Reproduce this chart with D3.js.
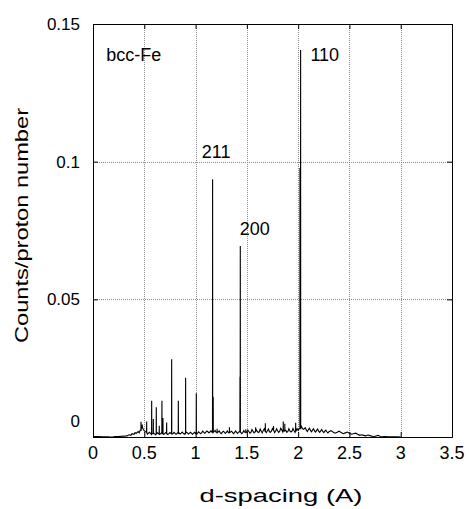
<!DOCTYPE html>
<html>
<head>
<meta charset="utf-8">
<script src="https://cdn.jsdelivr.net/npm/d3@7"></script>
<style>
  html, body { margin: 0; padding: 0; background: #fff; }
  svg { display: block; font-family: "Liberation Sans", Arial, sans-serif; }
</style>
</head>
<body>
<svg id="chart" width="469" height="509"></svg>
<script>
// ---- data ----
const xTicks = [0, 0.5, 1, 1.5, 2, 2.5, 3, 3.5];
const xTickLabels = ["0", "0.5", "1", "1.5", "2", "2.5", "3", "3.5"];
const yTicks = [0, 0.05, 0.1, 0.15];
const yTickLabels = ["0", "0.05", "0.1", "0.15"];

// background (d-spacing, counts/proton)
const bgD = [0.00,0.05,0.10,0.15,0.16,0.20,0.21,0.25,0.30,0.33,0.35,0.37,0.38,0.40,0.41,0.42,0.44,0.45,0.46,0.47,0.48,0.49,0.50,0.52,0.54,0.56,0.58,0.60,0.62,0.64,0.66,0.68,0.70,0.72,0.74,0.76,0.78,0.80,0.82,0.84,0.86,0.88,0.90,0.92,0.94,0.96,0.98,1.00,1.02,1.04,1.06,1.08,1.10,1.12,1.14,1.16,1.18,1.20,1.22,1.24,1.26,1.28,1.30,1.32,1.34,1.36,1.38,1.40,1.42,1.44,1.46,1.48,1.50,1.52,1.54,1.56,1.58,1.60,1.62,1.64,1.66,1.68,1.70,1.72,1.74,1.76,1.78,1.80,1.82,1.84,1.86,1.88,1.90,1.92,1.94,1.96,1.98,2.00,2.01,2.03,2.04,2.05,2.06,2.08,2.10,2.12,2.14,2.16,2.18,2.20,2.22,2.24,2.26,2.28,2.30,2.34,2.38,2.42,2.46,2.50,2.54,2.58,2.62,2.64,2.66,2.70,2.72,2.76,2.80,2.84,2.88,2.92,2.96,3.00];
const bgY = [0.0002,0.0002,0.0001,0.0001,0.0000,0.0000,0.0002,0.0002,0.0003,0.0004,0.0008,0.0006,0.0012,0.0010,0.0016,0.0013,0.0020,0.0015,0.0024,0.0030,0.0036,0.0028,0.0022,0.0017,0.0014,0.0013,0.0012,0.0011,0.0012,0.0011,0.0012,0.0012,0.0013,0.0012,0.0012,0.0013,0.0012,0.0013,0.0013,0.0015,0.0014,0.0013,0.0014,0.0015,0.0013,0.0014,0.0013,0.0013,0.0014,0.0015,0.0016,0.0017,0.0018,0.0019,0.0018,0.0017,0.0020,0.0017,0.0018,0.0016,0.0017,0.0018,0.0017,0.0016,0.0018,0.0017,0.0016,0.0017,0.0018,0.0017,0.0016,0.0017,0.0018,0.0020,0.0017,0.0021,0.0019,0.0022,0.0018,0.0021,0.0024,0.0020,0.0023,0.0019,0.0022,0.0025,0.0021,0.0023,0.0020,0.0026,0.0022,0.0024,0.0020,0.0022,0.0021,0.0023,0.0022,0.0024,0.0030,0.0040,0.0032,0.0028,0.0030,0.0025,0.0027,0.0024,0.0025,0.0022,0.0024,0.0021,0.0022,0.0020,0.0021,0.0019,0.0019,0.0018,0.0017,0.0016,0.0015,0.0014,0.0012,0.0010,0.0008,0.0006,0.0004,0.0005,0.0003,0.0004,0.0002,0.0002,0.0001,0.0001,0.0001,0.0000];

// counting noise on the background (d-spacing, counts/proton)
const noiseD = [0.53,0.55,0.57,0.59,0.61,0.63,0.65,0.67,0.69,0.71,0.73,0.75,0.77,0.79,0.81,0.83,0.85,0.87,0.89,0.91,0.93,0.95,0.97,0.99,1.01,1.03,1.05,1.07,1.09,1.11,1.13,1.15,1.17,1.19,1.21,1.23,1.25,1.27,1.29,1.31,1.33,1.35,1.37,1.39,1.41,1.43,1.45,1.47,1.49,1.51,1.53,1.55,1.57,1.59,1.61,1.63,1.65,1.67,1.69,1.71,1.73,1.75,1.77,1.79,1.81,1.83,1.85,1.87,1.89,1.91,1.93,1.95,1.97,1.99,2.07,2.09,2.11,2.13,2.15,2.17,2.19,2.21,2.23,2.25,2.27,2.29,2.32,2.36,2.40,2.44,2.48,2.52,2.56,2.60,2.68,2.74,2.78,2.82];
const noiseY = [0.0010,0.0017,0.0009,0.0015,0.0008,0.0015,0.0009,0.0016,0.0009,0.0016,0.0009,0.0016,0.0010,0.0017,0.0010,0.0017,0.0011,0.0018,0.0010,0.0018,0.0011,0.0017,0.0010,0.0017,0.0010,0.0019,0.0012,0.0021,0.0014,0.0022,0.0015,0.0023,0.0014,0.0024,0.0013,0.0022,0.0012,0.0021,0.0013,0.0022,0.0014,0.0021,0.0012,0.0022,0.0013,0.0021,0.0012,0.0023,0.0014,0.0025,0.0014,0.0027,0.0015,0.0028,0.0016,0.0029,0.0015,0.0030,0.0016,0.0029,0.0017,0.0031,0.0016,0.0030,0.0017,0.0032,0.0018,0.0033,0.0017,0.0030,0.0018,0.0031,0.0017,0.0030,0.0034,0.0020,0.0032,0.0019,0.0030,0.0018,0.0029,0.0017,0.0027,0.0016,0.0025,0.0015,0.0023,0.0014,0.0021,0.0012,0.0018,0.0010,0.0014,0.0006,0.0007,0.0001,0.0006,0.0001];

// diffraction peaks (d-spacing, peak height)
const peakD = [0.468,0.480,0.523,0.572,0.588,0.617,0.646,0.672,0.682,0.718,0.767,0.832,0.903,1.007,1.166,1.172,1.21,1.33,1.433,1.436,1.49,1.586,1.68,1.76,1.855,1.87,1.976,2.018,2.024];
const peakH = [0.0055,0.0045,0.0056,0.0132,0.0065,0.0108,0.0041,0.0132,0.0069,0.0053,0.0282,0.0132,0.0215,0.0159,0.0936,0.0146,0.0030,0.0035,0.0219,0.0694,0.0028,0.0035,0.0050,0.0040,0.0056,0.0048,0.0052,0.0977,0.1406];

// annotations
const annoText = ["bcc-Fe", "110", "211", "200"];
const annoD = [0.13, 2.12, 1.06, 1.43];
const annoV = [0.1365, 0.1365, 0.1015, 0.0735];

// ---- layout ----
const svg = d3.select("#chart");
const L = 93, R = 452, T = 24, B = 437;
const x = d3.scaleLinear().domain([0, 3.5]).range([L, R]);
const y = d3.scaleLinear().domain([0, 0.15]).range([B, T]);

// grid
const grid = svg.append("g").attr("stroke", "#8c8c8c").attr("stroke-width", 1).attr("stroke-dasharray", "1,1");
grid.selectAll("line.gx").data(xTicks.slice(1, -1)).enter().append("line")
  .attr("x1", d => Math.round(x(d)) + 0.5).attr("x2", d => Math.round(x(d)) + 0.5)
  .attr("y1", T).attr("y2", B);
grid.selectAll("line.gy").data(yTicks.slice(1, -1)).enter().append("line")
  .attr("y1", d => Math.round(y(d)) + 0.5).attr("y2", d => Math.round(y(d)) + 0.5)
  .attr("x1", L).attr("x2", R);

// build spectrum line
const bgPts = bgD.map((d, i) => [d, bgY[i]]);
function baseAt(d) {
  const i = Math.max(0, d3.bisector(p => p[0]).right(bgPts, d) - 1);
  return bgPts[i][1];
}
let pts = bgPts.concat(noiseD.map((d, i) => [d, noiseY[i]]));
peakD.forEach((d, i) => {
  const b = baseAt(d);
  pts.push([d - 0.001, b], [d, peakH[i]], [d + 0.001, b]);
});
pts.sort((a, b) => a[0] - b[0]);

svg.append("path")
  .datum(pts)
  .attr("fill", "none")
  .attr("stroke", "#000")
  .attr("stroke-width", 1.1)
  .attr("stroke-linejoin", "miter")
  .attr("d", d3.line().x(p => x(p[0])).y(p => y(p[1])));

// axes (inward ticks, box)
const xAxisB = d3.axisBottom(x).tickValues(xTicks).tickSize(-5).tickFormat("");
const xAxisT = d3.axisTop(x).tickValues(xTicks).tickSize(-5).tickFormat("");
const yAxisL = d3.axisLeft(y).tickValues(yTicks).tickSize(-5).tickFormat("");
const yAxisR = d3.axisRight(y).tickValues(yTicks).tickSize(-5).tickFormat("");
[[xAxisB, `translate(0,${B})`], [xAxisT, `translate(0,${T})`], [yAxisL, `translate(${L},0)`], [yAxisR, `translate(${R},0)`]]
  .forEach(([ax, tr]) => {
    const g = svg.append("g").attr("transform", tr).call(ax);
    g.selectAll("path,line").attr("stroke", "#000").attr("stroke-width", 1);
  });

// tick labels
svg.append("g").selectAll("text").data(xTicks).enter().append("text")
  .attr("x", d => x(d)).attr("y", 459)
  .attr("text-anchor", "middle").attr("font-size", 18).attr("fill", "#000")
  .text((d, i) => xTickLabels[i]);
svg.append("g").selectAll("text").data(yTicks).enter().append("text")
  .attr("x", 80).attr("y", (d, i) => y(d) + (i === 0 ? -16 : 0))
  .attr("dy", "0.35em")
  .attr("text-anchor", "end").attr("font-size", 17).attr("fill", "#000")
  .text((d, i) => yTickLabels[i]);

// axis titles
svg.append("text")
  .attr("x", 281).attr("y", 502).attr("text-anchor", "middle")
  .attr("font-size", 19).attr("textLength", 163).attr("lengthAdjust", "spacingAndGlyphs")
  .text("d-spacing (A)");
svg.append("text")
  .attr("transform", "translate(28,225.5) rotate(-90)")
  .attr("text-anchor", "middle")
  .attr("font-size", 18).attr("textLength", 235).attr("lengthAdjust", "spacingAndGlyphs")
  .text("Counts/proton number");

// annotations
svg.append("g").selectAll("text").data(annoText).enter().append("text")
  .attr("x", (d, i) => x(annoD[i])).attr("y", (d, i) => y(annoV[i]))
  .attr("font-size", 18).attr("fill", "#000")
  .text(d => d);
</script>
</body>
</html>
